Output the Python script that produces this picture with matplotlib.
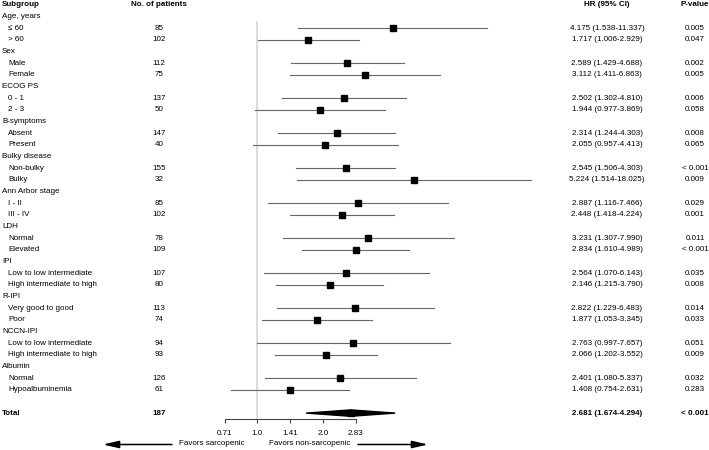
import matplotlib
matplotlib.use("Agg")
import matplotlib.pyplot as plt
import matplotlib.transforms as mtransforms
import numpy as np

plt.rcParams['font.family'] = ['Liberation Sans', 'DejaVu Sans']

groups = ["Age, years", "Sex", "ECOG PS", "B-symptoms", "Bulky disease", "Ann Arbor stage",
          "LDH", "IPI", "R-IPI", "NCCN-IPI", "Albumin"]
sub_labels = [["\u2264 60", "> 60"], ["Male", "Female"], ["0 - 1", "2 - 3"], ["Absent", "Present"],
              ["Non-bulky", "Bulky"], ["I - II", "III - IV"], ["Normal", "Elevated"],
              ["Low to low intermediate", "High intermediate to high"],
              ["Very good to good", "Poor"],
              ["Low to low intermediate", "High intermediate to high"],
              ["Normal", "Hypoalbuminemia"]]
n_patients = [[85, 102], [112, 75], [137, 50], [147, 40], [155, 32], [85, 102], [78, 109],
              [107, 80], [113, 74], [94, 93], [126, 61]]
hr = [[4.175, 1.717], [2.589, 3.112], [2.502, 1.944], [2.314, 2.055], [2.545, 5.224],
      [2.887, 2.448], [3.231, 2.834], [2.564, 2.146], [2.822, 1.877], [2.763, 2.066],
      [2.401, 1.408]]
ci_low = [[1.538, 1.006], [1.429, 1.411], [1.302, 0.977], [1.244, 0.957], [1.506, 1.514],
          [1.116, 1.418], [1.307, 1.610], [1.070, 1.215], [1.229, 1.053], [0.997, 1.202],
          [1.080, 0.754]]
ci_high = [[11.337, 2.929], [4.688, 6.863], [4.810, 3.869], [4.303, 4.413], [4.303, 18.025],
           [7.466, 4.224], [7.990, 4.989], [6.143, 3.790], [6.483, 3.345], [7.657, 3.552],
           [5.337, 2.631]]
p_values = [["0.005", "0.047"], ["0.002", "0.005"], ["0.006", "0.058"], ["0.008", "0.065"],
            ["< 0.001", "0.009"], ["0.029", "0.001"], ["0.011", "< 0.001"], ["0.035", "0.008"],
            ["0.014", "0.033"], ["0.051", "0.009"], ["0.032", "0.283"]]
total_n = 187
total_hr, total_low, total_high = 2.681, 1.674, 4.294
total_p = "< 0.001"
tick_vals = [0.71, 1.0, 1.41, 2.0, 2.83]
tick_labels = ["0.71", "1.0", "1.41", "2.0", "2.83"]

W, H = 709, 450
fig = plt.figure(figsize=(W / 100, H / 100), dpi=100)

# pixel layout: x(v) = 257.3 + 65.6*log2(v); row r at y = 5 + 11.66*r
x0, xpx = 257.3, 65.6
def xpix(v):
    return x0 + xpx * np.log2(v)

row_h, row0 = 11.66, 5.0
axis_y = 419.0
xmin, xmax = 0.5, 20
left = xpix(xmin) / W
width = (xpix(xmax) - xpix(xmin)) / W
ax = fig.add_axes([left, 1 - axis_y / H, width, axis_y / H])
ax.set_xscale("log")
ax.set_xlim(xmin, xmax)
ax.set_ylim((axis_y - row0) / row_h, -row0 / row_h)

fs = 5.8
tr = mtransforms.blended_transform_factory(fig.transFigure, ax.transData)

def fx(px):
    return px / W

# headers
ax.text(fx(2), 0, "Subgroup", transform=tr, fontsize=fs, fontweight="bold", va="center")
ax.text(fx(159), 0, "No. of patients", transform=tr, fontsize=fs, fontweight="bold", va="center", ha="center")
ax.text(fx(607), 0, "HR (95% CI)", transform=tr, fontsize=fs, fontweight="bold", va="center", ha="center")
ax.text(fx(695), 0, "P-value", transform=tr, fontsize=fs, fontweight="bold", va="center", ha="center")

ax.vlines(1.0, 1.37, (axis_y - row0) / row_h, color="#dddddd", lw=1.4, zorder=0)

r = 1
for g, labs, ns, hs, los, his, ps in zip(groups, sub_labels, n_patients, hr, ci_low, ci_high, p_values):
    ax.text(fx(2), r, g, transform=tr, fontsize=fs, va="center")
    r += 1
    for lab, n, h, lo, hi, p in zip(labs, ns, hs, los, his, ps):
        ax.text(fx(8), r, lab, transform=tr, fontsize=fs, va="center")
        ax.text(fx(159), r, str(n), transform=tr, fontsize=fs, va="center", ha="center")
        ax.text(fx(607), r, f"{h:.3f} ({lo:.3f}-{hi:.3f})", transform=tr, fontsize=fs, va="center", ha="center")
        ax.text(fx(695), r, p, transform=tr, fontsize=fs, va="center", ha="center")
        ax.plot([lo, hi], [r, r], color="#666666", lw=0.8, zorder=2)
        ax.plot(h, r, marker="s", ms=4.6, color="black", zorder=3)
        r += 1

r += 1
ax.text(fx(2), r, "Total", transform=tr, fontsize=fs, fontweight="bold", va="center")
ax.text(fx(159), r, str(total_n), transform=tr, fontsize=fs, fontweight="bold", va="center", ha="center")
ax.text(fx(607), r, f"{total_hr:.3f} ({total_low:.3f}-{total_high:.3f})", transform=tr,
        fontsize=fs, fontweight="bold", va="center", ha="center")
ax.text(fx(695), r, total_p, transform=tr, fontsize=fs, fontweight="bold", va="center", ha="center")
dh = 3.2 / row_h
ax.fill([total_low, total_hr, total_high, total_hr], [r, r - dh, r, r + dh], color="black", zorder=3)
ax.plot(total_hr, r, marker="s", ms=4.6, color="black", zorder=3)

# axis
for s in ["top", "right", "left"]:
    ax.spines[s].set_visible(False)
ax.spines["bottom"].set_bounds(tick_vals[0], tick_vals[-1])
ax.spines["bottom"].set_color("#444444")
ax.spines["bottom"].set_linewidth(0.8)
ax.set_yticks([])
ax.set_xticks(tick_vals)
ax.set_xticklabels(tick_labels)
ax.xaxis.set_minor_locator(matplotlib.ticker.NullLocator())
ax.tick_params(axis="x", length=3.2, width=0.8, color="#444444", labelsize=fs, pad=4.5)

# favors labels and arrows
yf = (443.5 - row0) / row_h
ax.text(fx(212), yf, "Favors sarcopenic", transform=tr, fontsize=fs, va="center", ha="center")
ax.text(fx(310), yf, "Favors non-sarcopenic", transform=tr, fontsize=fs, va="center", ha="center")
ya = (444.5 - row0) / row_h
ax.annotate("", xy=(fx(103), ya), xytext=(fx(172), ya), xycoords=tr, textcoords=tr,
            arrowprops=dict(arrowstyle="-|>,head_length=0.95,head_width=0.22", color="black",
                            lw=1.1, mutation_scale=10, shrinkA=0, shrinkB=0))
ax.annotate("", xy=(fx(428), ya), xytext=(fx(358), ya), xycoords=tr, textcoords=tr,
            arrowprops=dict(arrowstyle="-|>,head_length=0.95,head_width=0.22", color="black",
                            lw=1.1, mutation_scale=10, shrinkA=0, shrinkB=0))

fig.savefig("out.png", dpi=100)
